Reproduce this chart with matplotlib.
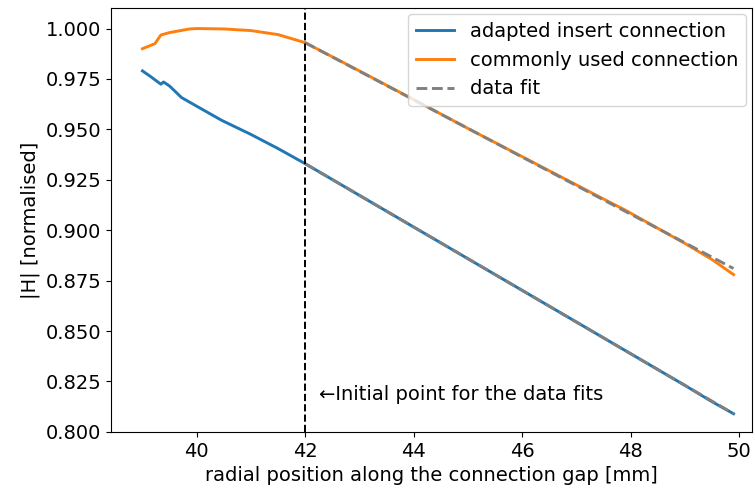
import matplotlib.pyplot as plt

x_adapted = [39.0, 39.15, 39.34, 39.39, 39.5, 39.72, 40.0, 40.46, 41.0, 41.5, 42.0,
             43.0, 44.0, 45.0, 46.0, 47.0, 48.0, 49.0, 49.5, 49.9]
h_adapted = [0.979, 0.9762, 0.9724, 0.9735, 0.9715, 0.9658, 0.9615, 0.9545, 0.9475, 0.9405, 0.933,
             0.9173, 0.9016, 0.8859, 0.8702, 0.8545, 0.8388, 0.8231, 0.8150, 0.809]

x_common = [39.0, 39.23, 39.34, 39.5, 39.87, 40.0, 40.5, 41.0, 41.5, 42.0,
            43.0, 44.0, 45.0, 46.0, 47.0, 47.5, 47.9, 48.3, 49.0, 49.5, 49.9]
h_common = [0.990, 0.9925, 0.9968, 0.998, 0.9998, 1.000, 0.9998, 0.999, 0.997, 0.993,
            0.9790, 0.9648, 0.9505, 0.9365, 0.9225, 0.9155, 0.9100, 0.9040, 0.8935, 0.8855, 0.878]

# data fits from the initial point on
x_fit = [42.0, 44.0, 46.0, 48.0, 49.9]
fit_adapted = [0.933, 0.9016, 0.8702, 0.8388, 0.809]
fit_common = [0.993, 0.9647, 0.9363, 0.9080, 0.881]

x_start = 42.0

plt.rcParams['font.size'] = 14
fig = plt.figure(figsize=(7.55, 4.93), dpi=100)
ax = fig.add_axes([0.147, 0.124, 0.849, 0.859])

ax.plot(x_adapted, h_adapted, color='#1f77b4', lw=2.1, label='adapted insert connection')
ax.plot(x_common, h_common, color='#ff7f0e', lw=2.1, label='commonly used connection')
ax.plot(x_fit, fit_adapted, color='gray', ls='--', lw=2.1, label='data fit')
ax.plot(x_fit, fit_common, color='gray', ls='--', lw=2.1)

ax.axvline(x_start, color='black', ls='--', lw=1.4)
ax.text(x_start + 0.25, 0.8185, '\u2190Initial point for the data fits', va='center')

ax.set_xlim(38.42, 50.24)
ax.set_ylim(0.8, 1.01)
ax.set_xticks([40, 42, 44, 46, 48, 50])
ax.set_yticks([0.8, 0.825, 0.85, 0.875, 0.9, 0.925, 0.95, 0.975, 1.0])
ax.yaxis.set_major_formatter(plt.FormatStrFormatter('%.3f'))
ax.set_xlabel('radial position along the connection gap [mm]')
ax.set_ylabel('|H| [normalised]')
ax.legend(loc='upper right', borderaxespad=0.3)

fig.savefig('out.png', dpi=100)
